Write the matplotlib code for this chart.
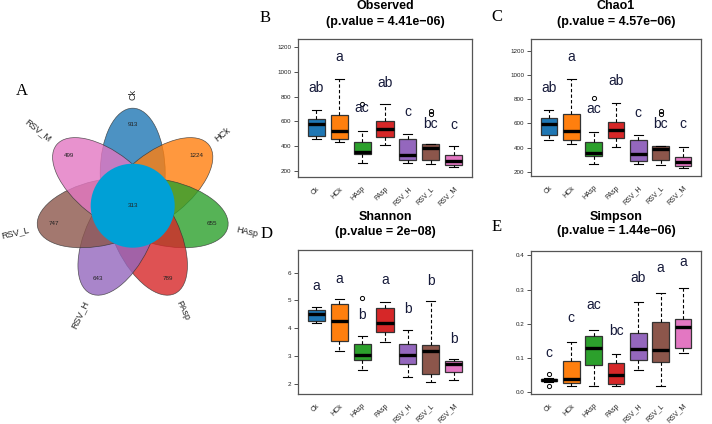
import matplotlib
matplotlib.use('Agg')
import matplotlib.pyplot as plt
from matplotlib.patches import Ellipse, Circle
import numpy as np

plt.rcParams['font.family'] = ['Liberation Sans', 'DejaVu Sans']

groups = ['Ck', 'HCk', 'HAsp', 'PAsp', 'RSV_H', 'RSV_L', 'RSV_M']
colors = ['#1f77b4', '#ff7f0e', '#2ca02c', '#d62728', '#9467bd', '#8c564b', '#e377c2']

# Flower (Venn) panel
venn_unique = [913, 1224, 655, 789, 643, 747, 499]
venn_core = 313

# Observed
obs_whislo = [453, 432, 261, 405, 267, 251, 227]
obs_q1 = [483, 459, 333, 475, 285, 285, 245]
obs_med = [581, 520, 355, 536, 328, 381, 280]
obs_q3 = [619, 653, 435, 605, 456, 413, 325]
obs_whishi = [691, 941, 525, 736, 496, 413, 400]
obs_fliers = [[], [], [740], [], [], [685, 659], []]
obs_letters = ['ab', 'a', 'ac', 'ab', 'c', 'bc', 'c']
obs_letter_y = [867, 1120, 707, 907, 675, 579, 573]

# Chao1
chao_whislo = [460, 432, 261, 404, 266, 255, 228]
chao_q1 = [504, 462, 333, 476, 286, 297, 247]
chao_med = [598, 534, 357, 548, 344, 388, 283]
chao_q3 = [647, 675, 449, 614, 462, 415, 324]
chao_whishi = [711, 971, 529, 772, 504, 415, 404]
chao_fliers = [[], [], [808], [], [], [705, 680], []]
chao_letters = ['ab', 'a', 'ac', 'ab', 'c', 'bc', 'c']
chao_letter_y = [890, 1153, 719, 951, 683, 592, 592]

# Shannon
sha_whislo = [4.18, 3.18, 2.49, 3.51, 2.23, 2.07, 2.12]
sha_q1 = [4.25, 3.53, 2.87, 3.86, 2.72, 2.36, 2.41]
sha_med = [4.51, 4.27, 3.05, 4.20, 3.04, 3.17, 2.70]
sha_q3 = [4.64, 4.87, 3.43, 4.73, 3.45, 3.41, 2.83]
sha_whishi = [4.77, 5.04, 3.73, 4.94, 3.95, 4.98, 2.89]
sha_fliers = [[], [], [5.10], [], [], [], []]
sha_letters = ['a', 'a', 'b', 'a', 'b', 'b', 'b']
sha_letter_y = [5.52, 5.77, 4.47, 5.73, 4.69, 5.71, 3.60]

# Simpson
sim_whislo = [0.030, 0.017, 0.016, 0.018, 0.063, 0.018, 0.115]
sim_q1 = [0.032, 0.027, 0.080, 0.024, 0.094, 0.087, 0.130]
sim_med = [0.035, 0.037, 0.129, 0.050, 0.126, 0.122, 0.190]
sim_q3 = [0.038, 0.092, 0.164, 0.084, 0.174, 0.206, 0.214]
sim_whishi = [0.040, 0.145, 0.182, 0.110, 0.264, 0.290, 0.306]
sim_fliers = [[0.054, 0.018], [], [], [], [], [], []]
sim_letters = ['c', 'c', 'ac', 'bc', 'ab', 'a', 'a']
sim_letter_y = [0.113, 0.218, 0.254, 0.178, 0.334, 0.363, 0.381]

W, H = 712, 424
fig = plt.figure(figsize=(W / 100, H / 100), dpi=100)

# background axes in pixel units (y up)
bg = fig.add_axes([0, 0, 1, 1])
bg.set_xlim(0, W)
bg.set_ylim(0, H)
bg.axis('off')

cx, cy = 132.7, H - 205.7
unit = 32.5
n = len(groups)
for i, (g, c, v) in enumerate(zip(groups, colors, venn_unique)):
    th = 90 - 360.0 / n * i
    r = np.deg2rad(th)
    ex, ey = cx + unit * np.cos(r), cy + unit * np.sin(r)
    bg.add_patch(Ellipse((ex, ey), 4 * unit, 65, angle=th, facecolor=c,
                         alpha=0.8, edgecolor='none'))
    bg.add_patch(Ellipse((ex, ey), 4 * unit, 65, angle=th, facecolor='none',
                         edgecolor='#333333', lw=0.5, alpha=0.8))
    bg.text(cx + 81 * np.cos(r), cy + 81 * np.sin(r), str(v), fontsize=4.5,
            ha='center', va='center', color='#222222')
    lx, ly = cx + 106 * np.cos(r), cy + 106 * np.sin(r)
    thn = ((th + 180) % 360) - 180
    if -90 < thn <= 90:
        bg.text(lx, ly, g, rotation=thn, rotation_mode='anchor', ha='left',
                va='center', fontsize=6.5, color='#222222')
    else:
        bg.text(lx, ly, g, rotation=thn + 180, rotation_mode='anchor', ha='right',
                va='center', fontsize=6.5, color='#222222')
bg.add_patch(Circle((cx, cy), 42, facecolor='#00a0d6', edgecolor='none', zorder=5))
bg.text(cx, cy, str(venn_core), fontsize=4.5, ha='center', va='center',
        color='#222222', zorder=6)

serif = ['Liberation Serif', 'DejaVu Serif']
for lab, x, y in [('A', 21.7, 90.7), ('B', 265, 18), ('C', 497, 17),
                  ('D', 267, 234), ('E', 497, 227)]:
    bg.text(x, H - y, lab, family=serif, fontsize=12, ha='center', va='center')


def add_ax(l, r, t, b):
    return fig.add_axes([l / W, 1 - b / H, (r - l) / W, (b - t) / H])


def panel(ax, whislo, q1, med, q3, whishi, fliers, letters, ly, ylim, yticks,
          yfmt):
    stats = []
    for i in range(len(groups)):
        stats.append(dict(whislo=whislo[i], q1=q1[i], med=med[i], q3=q3[i],
                          whishi=whishi[i], fliers=fliers[i]))
    bp = ax.bxp(stats, positions=range(1, 8), widths=0.75, patch_artist=True,
                showfliers=True, capwidths=0.4,
                boxprops=dict(edgecolor='#333333', linewidth=0.9),
                medianprops=dict(color='black', linewidth=2.4, solid_capstyle='butt'),
                whiskerprops=dict(color='black', linestyle=(0, (3, 2)), linewidth=0.8),
                capprops=dict(color='black', linewidth=0.8),
                flierprops=dict(marker='o', markerfacecolor='none',
                                markeredgecolor='black', markersize=3,
                                markeredgewidth=0.7))
    for p, c in zip(bp['boxes'], colors):
        p.set_facecolor(c)
    for i, (t, y) in enumerate(zip(letters, ly)):
        ax.text(i + 1, y, t, ha='center', va='center', fontsize=10,
                color='#161a3a')
    ax.set_xlim(0.2, 7.8)
    ax.set_ylim(*ylim)
    ax.set_yticks(yticks)
    ax.set_yticklabels([yfmt.format(v) for v in yticks], fontsize=4.5,
                       color='#222222')
    ax.tick_params(axis='y', length=3, width=0.6, pad=2, color='#333333')
    ax.set_xticks(range(1, 8))
    ax.set_xticklabels(groups, rotation=45, ha='right', rotation_mode='anchor',
                       fontsize=5, color='#222222')
    ax.tick_params(axis='x', length=0, pad=6)
    for s in ax.spines.values():
        s.set_color('#555555')
        s.set_linewidth(0.9)
    return ax


axB = add_ax(298, 472, 39, 177)
panel(axB, obs_whislo, obs_q1, obs_med, obs_q3, obs_whishi, obs_fliers,
      obs_letters, obs_letter_y, (150, 1265), [200, 400, 600, 800, 1000, 1200],
      '{:d}')
axC = add_ax(531, 701, 39, 176)
panel(axC, chao_whislo, chao_q1, chao_med, chao_q3, chao_whishi, chao_fliers,
      chao_letters, chao_letter_y, (165, 1300), [200, 400, 600, 800, 1000, 1200],
      '{:d}')
axD = add_ax(298, 472, 250, 394)
panel(axD, sha_whislo, sha_q1, sha_med, sha_q3, sha_whishi, sha_fliers,
      sha_letters, sha_letter_y, (1.63, 6.82), [2, 3, 4, 5, 6],
      '{:d}')
axE = add_ax(531, 701, 251, 394)
panel(axE, sim_whislo, sim_q1, sim_med, sim_q3, sim_whishi, sim_fliers,
      sim_letters, sim_letter_y, (-0.006, 0.413), [0.0, 0.1, 0.2, 0.3, 0.4],
      '{:.1f}')

for cxp, y1, y2, t1, t2 in [(385, 6, 22, 'Observed', '(p.value = 4.41e\u221206)'),
                            (616, 6, 22, 'Chao1', '(p.value = 4.57e\u221206)'),
                            (385, 217, 232, 'Shannon', '(p.value = 2e\u221208)'),
                            (616, 217, 231, 'Simpson', '(p.value = 1.44e\u221206)')]:
    bg.text(cxp, H - y1, t1, fontsize=9, fontweight='bold', ha='center', va='center')
    bg.text(cxp, H - y2, t2, fontsize=9, fontweight='bold', ha='center', va='center')

fig.savefig('out.png', dpi=100)
